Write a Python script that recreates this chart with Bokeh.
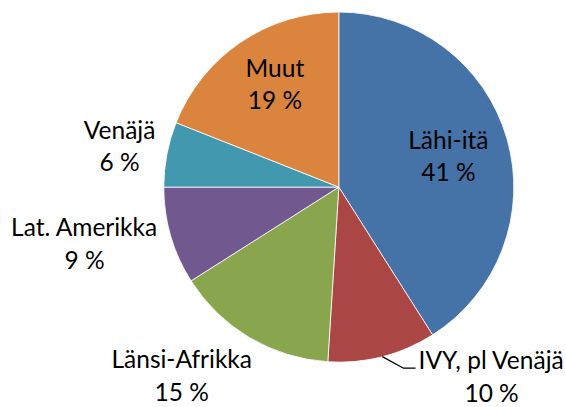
import math
from bokeh.plotting import figure
from bokeh.models import Range1d, ColumnDataSource
from bokeh.core.properties import value
from bokeh.embed import file_html
from bokeh.resources import INLINE

# ---- data ----
categories = ["Lähi-itä", "IVY, pl Venäjä", "Länsi-Afrikka", "Lat. Amerikka", "Venäjä", "Muut"]
shares = [41, 10, 15, 9, 6, 19]
colors = ["#4572A7", "#AA4643", "#89A54E", "#71588F", "#4198AF", "#DB843D"]

# ---- layout ----
W, H = 566, 407
CX, CY = 338.3, H - 186.6
R = 175.0
label_r = [0.639, 1.431, 1.442, 1.50, 1.266, 0.650]     # radial factor of label anchor
label_da = [4.8, -23.2, 7.9, 1.8, -2.5, 0.0]            # angular nudge, degrees (clockwise)
LINE_GAP = 16.3
TEXT_LIFT = 9.5
FONT = "Lato"
FSIZE = "24.5px"

total = float(sum(shares))
starts, ends, mids = [], [], []
cum = 0.0
for s in shares:
    a0 = cum / total
    cum += s
    a1 = cum / total
    starts.append(math.pi / 2 - 2 * math.pi * a0)
    ends.append(math.pi / 2 - 2 * math.pi * a1)
    mids.append(360.0 * (a0 + a1) / 2)   # degrees clockwise from top

wsrc = ColumnDataSource(dict(start=starts, end=ends, color=colors,
                             x=[CX] * len(shares), y=[CY] * len(shares)))

p = figure(width=W, height=H, x_range=Range1d(0, W), y_range=Range1d(0, H),
           x_axis_type=None, y_axis_type=None, toolbar_location=None,
           output_backend="svg", min_border=0)
p.outline_line_color = None
p.grid.visible = False
p.background_fill_color = "white"

p.wedge(x="x", y="y", radius=R, start_angle="start", end_angle="end",
        direction="clock", fill_color="color", line_color="white",
        line_width=0.8, source=wsrc)

lx, ly = [], []
for i in range(len(shares)):
    ang = math.radians(mids[i] + label_da[i])
    r = label_r[i] * R
    lx.append(CX + r * math.sin(ang))
    ly.append(CY + r * math.cos(ang))

tsrc = ColumnDataSource(dict(x=lx,
                             y1=[v + LINE_GAP + TEXT_LIFT for v in ly],
                             y2=[v - LINE_GAP + TEXT_LIFT for v in ly],
                             name=categories, pct=[f"{s} %" for s in shares]))
for col, yc in (("name", "y1"), ("pct", "y2")):
    p.text(x="x", y=yc, text=col, source=tsrc, text_align="center",
           text_baseline="alphabetic", text_font=value(FONT),
           text_font_size=FSIZE, text_color="black")

# leader line for IVY label
i = 1
ang = math.radians(mids[i])
x0, y0 = CX + R * math.sin(ang), CY + R * math.cos(ang)
xe, ye = lx[i] - 76, ly[i] + LINE_GAP + 1
p.line([x0, xe - 12, xe], [y0, ye, ye], line_color="black", line_width=1.3)

open("out.html", "w").write(file_html(p, INLINE))
